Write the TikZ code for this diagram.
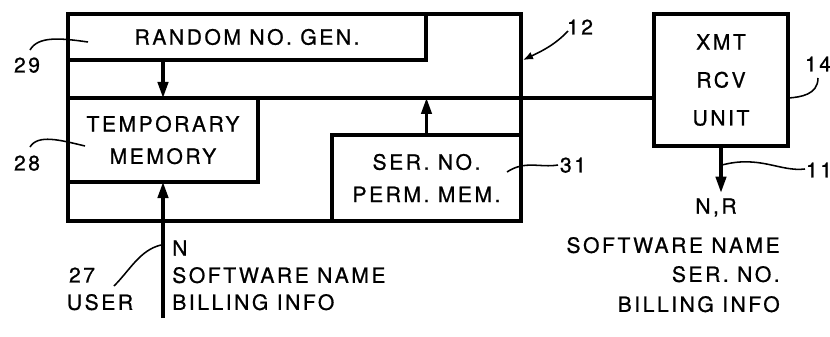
\documentclass[tikz,border=0pt]{standalone}
\usepackage{fontspec}
\setmainfont{TeX Gyre Heros}[LetterSpace=12, FakeBold=0.8]
\usetikzlibrary{arrows.meta}

\begin{document}
\begin{tikzpicture}[x=0.025cm, y=-0.025cm,
    box/.style={draw, line width=2.4pt, inner sep=0pt, outer sep=0pt, align=center,
        font=\fontsize{15}{23}\selectfont},
    txt/.style={inner sep=0pt, text depth=0pt, font=\fontsize{15}{19}\selectfont},
    lead/.style={line width=1.1pt},
    flow/.style={line width=2.2pt, -{Triangle[length=4mm,width=2.6mm]}}]
    \useasboundingbox (0,0) rectangle (830,336);
    % Draw blocks
    \node[box, minimum width=11.325cm, minimum height=5.175cm] (sys) at (294.5,117.5) {};
    \node[box, minimum width=8.95cm, minimum height=1.15cm] (rng) at (247,37) {RANDOM NO. GEN.};
    \node[box, minimum width=4.75cm, minimum height=2.1cm] (tmp) at (163,140) {TEMPORARY\\MEMORY};
    \node[box, minimum width=4.725cm, minimum height=2.15cm] (ser) at (426.5,178) {SER. NO.\\PERM. MEM.};
    \node[box, minimum width=3.35cm, minimum height=3.3cm,
        font=\fontsize{15}{27}\selectfont] (xmt) at (721,80) {XMT\\RCV\\UNIT};
    % Draw bus line
    \draw[line width=2.4pt] (tmp.north west) -- (tmp.north west -| xmt.west);
    % Draw arrows
    \draw[flow] (rng.south -| tmp.north) -- (tmp.north);
    \draw[flow] (ser.north) -- (ser.north |- tmp.north);
    \coordinate (userin) at (163,318);
    \draw[flow] (userin) -- (tmp.south);
    % Draw input texts
    \node[txt, anchor=west] (inN) at (172,248) {N};
    \node[txt, anchor=west] (inSW) at (172,275) {SOFTWARE NAME};
    \node[txt, anchor=west] (inBill) at (172,302) {BILLING INFO};
    \node[txt] (user) at (100,302) {USER};
    % Draw output texts
    \node[txt, outer sep=4pt] (nr) at (716,206) {N,R};
    \draw[flow] (xmt.south) -- (xmt.south |- nr.north);
    \node[txt, anchor=east] (outSW) at (780,245) {SOFTWARE NAME};
    \node[txt, anchor=east] (outSer) at (780,274) {SER. NO.};
    \node[txt, anchor=east] (outBill) at (780,304) {BILLING INFO};
    % Draw reference numbers
    \node[txt] (n29) at (27,65) {29};
    \node[txt] (n28) at (27,163) {28};
    \node[txt] (n27) at (82,275) {27};
    \node[txt] (n12) at (580,27) {12};
    \node[txt] (n14) at (818,64) {14};
    \node[txt] (n31) at (573,165) {31};
    \node[txt] (n11) at (819,170) {11};
    % Draw leaders
    \draw[lead] (30,50) .. controls (38,36) and (60,38) .. (88,42);
    \draw[lead] (30,147) .. controls (38,134) and (60,140) .. (85,146);
    \draw[lead] (114,286) .. controls (130,270) and (140,250) .. (161,245);
    \draw[lead, -{Latex[length=2.5mm,width=2mm]}] (568,31) .. controls (555,45) and (540,52) .. (523,60);
    \draw[lead] (818,78) .. controls (818,95) and (800,97) .. (789,98);
    \draw[lead] (558,165) .. controls (540,168) and (525,160) .. (507,172);
    \draw[lead] (805,169) .. controls (780,172) and (760,155) .. (722,165);
\end{tikzpicture}
\end{document}
